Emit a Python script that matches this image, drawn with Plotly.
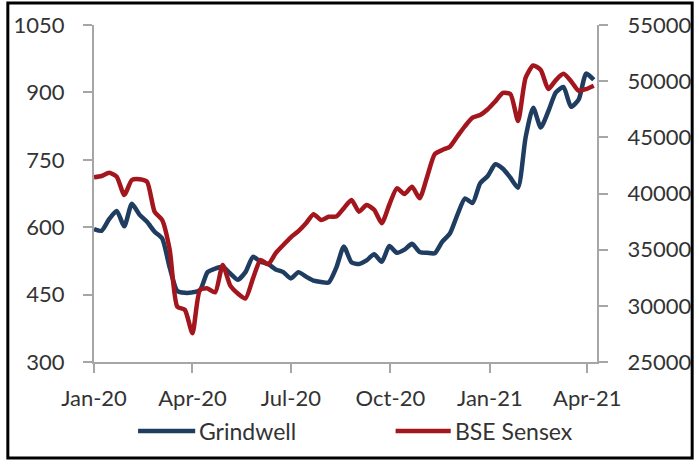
import pandas as pd
import plotly.graph_objects as go

# Weekly observations, Jan-2020 to Apr-2021
dates = pd.date_range("2020-01-01", periods=67, freq="7D")

grindwell = [596, 592, 618, 636, 602, 652, 628, 612, 590, 575,
             510, 458, 454, 455, 460, 500, 508, 512, 497, 483,
             500, 534, 523, 518, 506, 500, 486, 500, 490, 481,
             478, 477, 510, 557, 522, 518, 526, 540, 523, 558,
             543, 550, 563, 545, 543, 542, 568, 586, 628, 664,
             654, 698, 714, 740, 730, 710, 688, 800, 866, 822,
             858, 900, 912, 868, 884, 942, 928]

sensex = [41445, 41560, 41850, 41500, 39870, 41200, 41270, 41050, 38380, 37640,
          34975, 29930, 29640, 27560, 31415, 31550, 31200, 33640, 31800, 31100,
          30650, 32450, 34080, 33700, 34700, 35420, 36100, 36650, 37350, 38150,
          37640, 37935, 37950, 38690, 39425, 38380, 38980, 38550, 37360, 39000,
          40460, 39950, 40610, 39580, 41500, 43500, 43875, 44170, 45100, 46000,
          46750, 46990, 47500, 48200, 48950, 48850, 46450, 50300, 51400, 51000,
          49300, 50100, 50650, 50000, 49150, 49300, 49600]

series_names = ["Grindwell", "BSE Sensex"]
left_ticks = [300, 450, 600, 750, 900, 1050]
right_ticks = [25000, 30000, 35000, 40000, 45000, 50000, 55000]
x_ticks = ["2020-01-01", "2020-04-01", "2020-07-01", "2020-10-01", "2021-01-01", "2021-04-01"]

NAVY = "#1F3C61"
RED = "#A3161D"
AX = "#A6A6A6"
FONT = "Lato"
TXT = "#333333"

fig = go.Figure()
fig.add_trace(go.Scatter(x=dates, y=grindwell, name=series_names[0], mode="lines",
                         line=dict(color=NAVY, width=4.5, shape="spline", smoothing=0.6),
                         yaxis="y", showlegend=False))
fig.add_trace(go.Scatter(x=dates, y=sensex, name=series_names[1], mode="lines",
                         line=dict(color=RED, width=4.5, shape="spline", smoothing=0.6),
                         yaxis="y2", showlegend=False))

axis_common = dict(showgrid=False, zeroline=False, showline=True, linecolor=AX, linewidth=2,
                   ticks="outside", ticklen=9, tickcolor=AX, tickwidth=1.5, automargin=False,
                   tickfont=dict(family=FONT, size=22, color=TXT))

fig.update_layout(
    width=694, height=461,
    margin=dict(l=94, r=97, t=25, b=99),
    paper_bgcolor="white", plot_bgcolor="white",
    font=dict(family=FONT, size=22, color=TXT),
    xaxis=dict(type="date", range=["2020-01-01", "2021-04-10"],
               tickvals=x_ticks, tickformat="%b-%y", ticklabelstandoff=7, **axis_common),
    yaxis=dict(range=[300, 1050], tickvals=left_ticks, ticklabelstandoff=14, **axis_common),
    yaxis2=dict(range=[25000, 55000], tickvals=right_ticks, tickformat="d",
                overlaying="y", side="right", ticklabelstandoff=15, **axis_common),
    showlegend=False,
)

# Legend (manual, bottom)
legend_items = [(series_names[0], NAVY, 0.0876, 0.2012), (series_names[1], RED, 0.5996, 0.7092)]
ly = -0.2047
for name, col, xa, xb in legend_items:
    fig.add_shape(type="line", xref="paper", yref="paper", x0=xa, x1=xb, y0=ly, y1=ly,
                  line=dict(color=col, width=4.5))
    fig.add_annotation(xref="paper", yref="paper", x=xb + 0.004, y=ly, text=name,
                       showarrow=False, xanchor="left", yanchor="middle",
                       font=dict(family=FONT, size=23, color=TXT))

# Outer frame
fig.add_shape(type="rect", xref="paper", yref="paper",
              x0=-0.1713, x1=1.1892, y0=-0.2849, y1=1.0653,
              line=dict(color="black", width=3), fillcolor="rgba(0,0,0,0)", layer="above")

fig.write_html("out.html")
